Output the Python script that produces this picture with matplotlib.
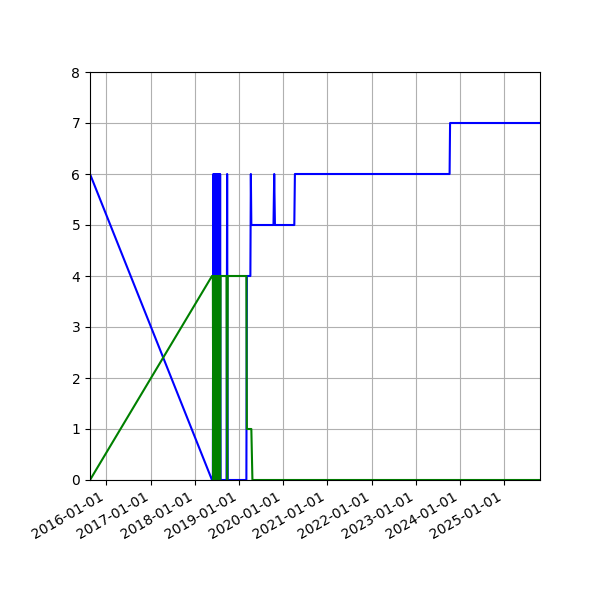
import pandas as pd
import matplotlib
matplotlib.use('Agg')
import matplotlib.pyplot as plt
import matplotlib.dates as mdates

# sample dates shared by both series
dates = [
    '2015-08-20', '2018-05-24', '2018-05-31',
    '2018-06-04', '2018-06-08', '2018-06-12', '2018-06-16', '2018-06-20',
    '2018-06-24', '2018-06-28', '2018-07-02', '2018-07-06', '2018-07-10',
    '2018-07-14', '2018-07-18', '2018-07-22', '2018-07-26', '2018-07-30',
    '2018-08-03',
    '2018-09-21', '2018-09-26', '2018-10-01',
    '2019-03-04', '2019-03-08', '2019-04-06', '2019-04-10', '2019-04-14',
    '2019-04-23',
    '2019-10-14', '2019-10-20', '2019-10-26',
    '2020-04-03', '2020-04-08',
    '2023-10-08', '2023-10-12', '2025-10-24',
]
blue_vals = [
    6, 0, 0,
    6, 0, 6, 0, 6, 0, 6, 0, 6, 0, 6, 0, 6, 0, 6,
    0,
    0, 6, 0,
    0, 4, 4, 6, 5,
    5,
    5, 6, 5,
    5, 6,
    6, 7, 7,
]
green_vals = [
    0, 4, 4,
    0, 4, 0, 4, 0, 4, 0, 4, 0, 4, 0, 4, 0, 4, 0,
    4,
    4, 0, 4,
    4, 1, 1, 1, 1,
    0,
    0, 0, 0,
    0, 0,
    0, 0, 0,
]

df = pd.DataFrame({'blue': blue_vals, 'green': green_vals}, index=pd.to_datetime(dates))

fig, ax = plt.subplots(figsize=(6, 6), dpi=100)
ax.plot(df.index, df['blue'], color='blue', linewidth=1.5)
ax.plot(df.index, df['green'], color='green', linewidth=1.5)

ax.set_xlim(df.index[0], df.index[-1])
ax.set_ylim(0, 8)
ax.xaxis.set_major_locator(mdates.YearLocator())
ax.xaxis.set_major_formatter(mdates.DateFormatter('%Y-%m-%d'))
ax.grid(True)

fig.autofmt_xdate()
fig.subplots_adjust(left=0.15, right=0.9, top=0.88, bottom=0.2)
fig.savefig('out.png')
